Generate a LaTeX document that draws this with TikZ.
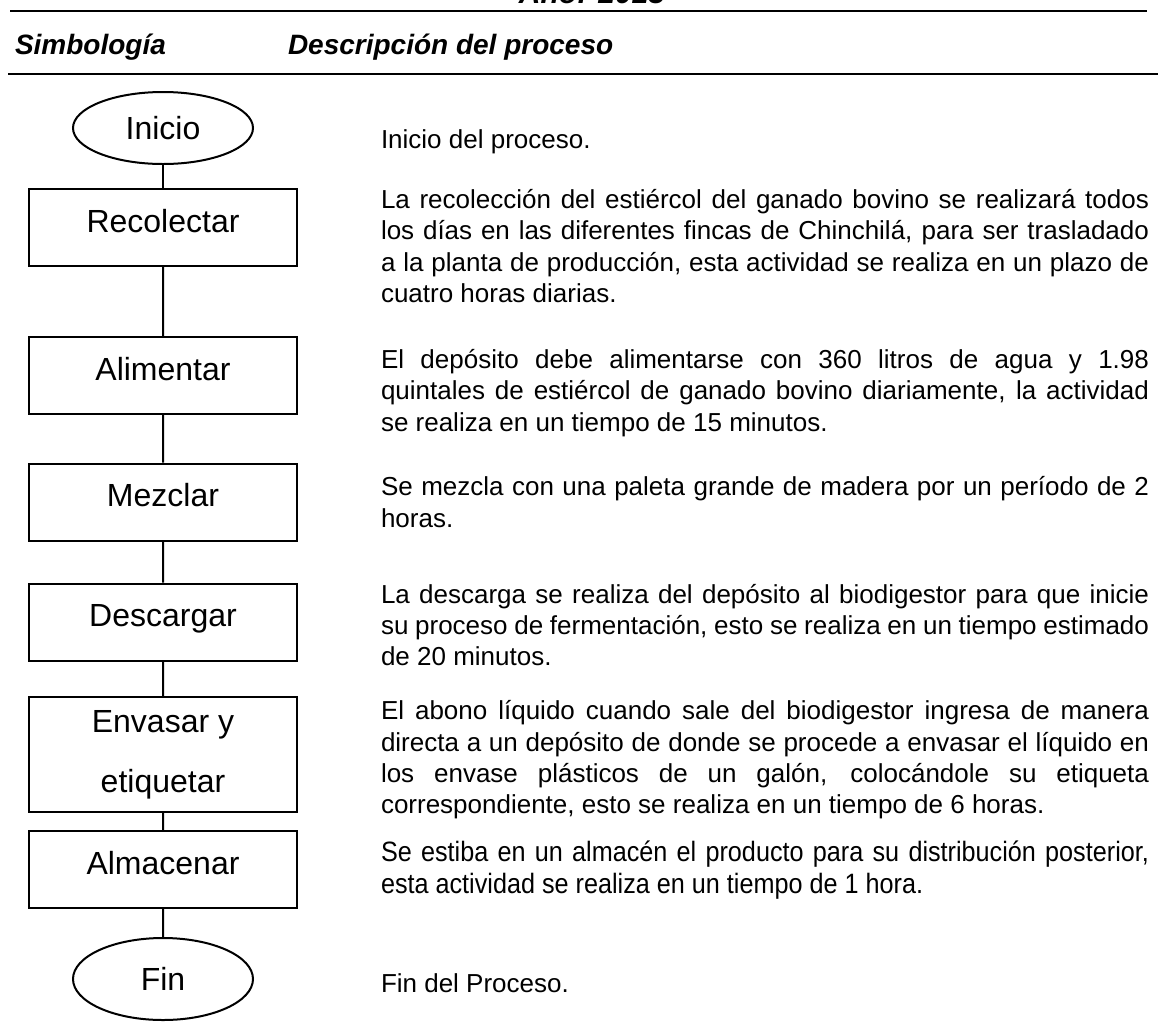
\documentclass[tikz,border=0pt]{standalone}
\usepackage{fontspec}
\setmainfont{Liberation Sans}
\newfontfamily\narrowfont[FakeStretch=0.9]{Liberation Sans}
\usetikzlibrary{shapes.geometric}
\hyphenpenalty=10000
\exhyphenpenalty=10000
\tolerance=10000
\begin{document}
\begin{tikzpicture}[
  x=1pt, y=-1pt,
  line width=2pt,
  term/.style={draw, ellipse, minimum width=180pt, minimum height=72pt,
    inner sep=0pt, font=\fontsize{32}{38}\selectfont},
  procbox/.style={draw, rectangle, minimum width=268pt, minimum height=77pt,
    inner sep=0pt, align=center, font=\fontsize{32}{38}\selectfont},
  stepbox/.style={procbox, text height=23pt, text depth=14pt},
  desc/.style={anchor=west, inner sep=0pt, text width=768pt, align=justify,
    font=\fontsize{26}{31.3}\selectfont},
  head/.style={anchor=base west, inner sep=0pt,
    font=\fontsize{28}{32}\selectfont\bfseries\itshape},
  edge from parent/.style={draw, -}
]
\clip (0,0) rectangle (1158,1034);

% header
\node[anchor=base, inner sep=0pt, font=\fontsize{30}{36}\selectfont\bfseries\itshape]
  (anio) at (592,3) {Año: 2013};
\draw (10,11) -- (1147,11);
\node[head] (simb) at (14,54) {Simbología};
\node[head] (descr) at (287,54) {Descripción del proceso};
\draw (8,74) -- (1158,74);

% flow chart
\node[term] (inicio) at (163,128) {Inicio}
  child[level distance=99.5pt] {
    node[stepbox] (recolectar) {Recolectar}
    child[level distance=148pt] {
      node[stepbox] (alimentar) {Alimentar}
      child[level distance=126.5pt] {
        node[stepbox] (mezclar) {Mezclar}
        child[level distance=120pt] {
          node[stepbox] (descargar) {Descargar}
          child[level distance=132.5pt] {
            node[procbox, minimum height=115pt] (envasar) {Envasar y\\[22pt]etiquetar}
            child[level distance=115pt] {
              node[stepbox] (almacenar) {Almacenar}
              child[level distance=109.5pt] {
                node[term, minimum height=82pt] (fin) {Fin}
              }
            }
          }
        }
      }
    }
  };

% descriptions
\node[desc] (dinicio) at (380,142) {Inicio del proceso.};
\node[desc] (drecolectar) at (380,246) {La recolección del estiércol del ganado bovino se realizará todos\linebreak
  los días en las diferentes fincas de Chinchilá, para ser trasladado\linebreak
  a la planta de producción, esta actividad se realiza en un plazo de\linebreak
  cuatro horas diarias.};
\node[desc] (dalimentar) at (380,393) {El depósito debe alimentarse con 360 litros de agua y 1.98\linebreak
  quintales de estiércol de ganado bovino diariamente, la actividad\linebreak
  se realiza en un tiempo de 15 minutos.};
\node[desc] (dmezclar) at (380,502) {Se mezcla con una paleta grande de madera por un período de 2\linebreak
  horas.};
\node[desc] (ddescargar) at (380,625) {La descarga se realiza del depósito al biodigestor para que inicie\linebreak
  su proceso de fermentación, esto se realiza en un tiempo estimado\linebreak
  de 20 minutos.};
\node[desc] (denvasar) at (380,760) {El abono líquido cuando sale del biodigestor ingresa de manera\linebreak
  directa a un depósito de donde se procede a envasar el líquido en\linebreak
  los envase plásticos de un galón, colocándole su etiqueta\linebreak
  correspondiente, esto se realiza en un tiempo de 6 horas.};
\node[desc, font=\fontsize{28}{31.3}\narrowfont] (dalmacenar) at (380,870) {Se estiba en un almacén el producto para su distribución posterior,\linebreak
  esta actividad se realiza en un tiempo de 1 hora.};
\node[desc] (dfin) at (380,983) {Fin del Proceso.};

\end{tikzpicture}
\end{document}
